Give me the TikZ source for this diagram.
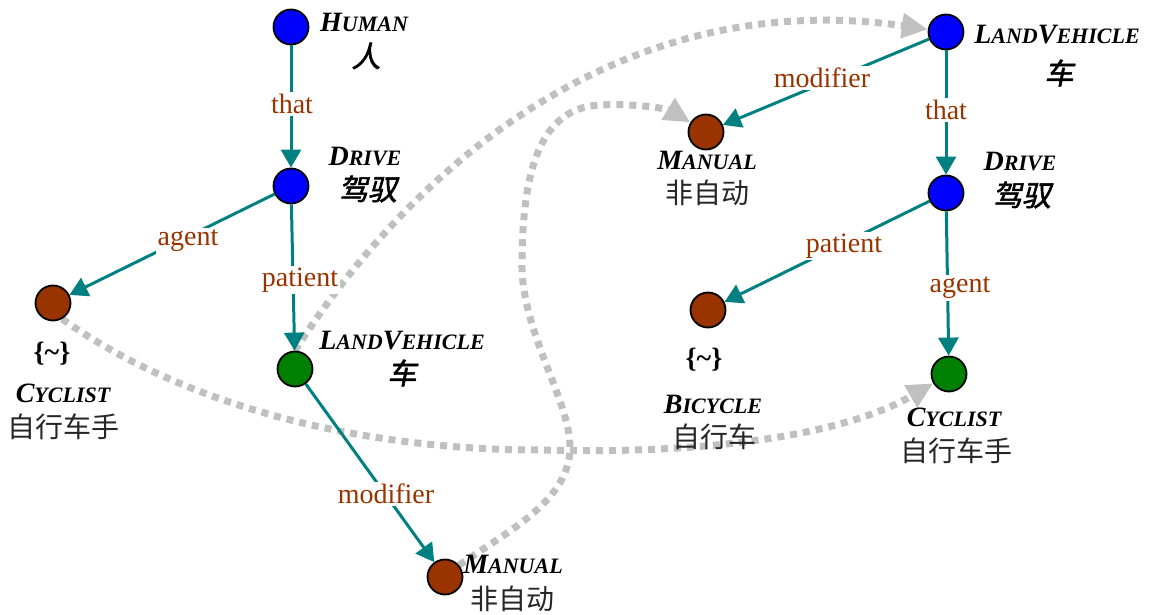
\documentclass[tikz,border=0pt]{standalone}
\usepackage{fontspec}
\setmainfont{Liberation Serif}
\newfontfamily\cjk{Noto Sans CJK SC}
\newfontfamily\cjkbi[FakeSlant=0.2,FakeBold=2]{Noto Sans CJK SC}
\usetikzlibrary{arrows.meta}
\pgfdeclarelayer{bg}
\pgfsetlayers{bg,main}

\definecolor{relcol}{HTML}{008080}
\definecolor{rust}{HTML}{993300}
\definecolor{cblue}{HTML}{0000FF}
\definecolor{cgreen}{HTML}{008000}
\definecolor{silv}{HTML}{C0C0C0}

% concept name in bold italic small capitals
\newcommand\kw[2]{{\bfseries\itshape\fontsize{14}{16}\selectfont #1\fontsize{11}{13}\selectfont #2}}

\tikzset{
  concept/.style={circle, draw=black, line width=0.9pt, minimum size=17.5pt, inner sep=0pt},
  isblue/.style={concept, fill=cblue},
  isgreen/.style={concept, fill=cgreen},
  isrust/.style={concept, fill=rust},
  rel/.style={draw=relcol, line width=1.5pt, -{Triangle[length=9pt,width=10pt]}},
  rellabel/.style={fill=white, text=rust, font=\fontsize{14}{16}\selectfont, inner sep=1pt},
  en/.style={inner sep=0pt},
  zhb/.style={inner sep=0pt, font=\cjkbi\fontsize{14.5}{16}\selectfont},
  zh/.style={inner sep=0pt, text=black!85, font=\cjk\fontsize{14}{16}\selectfont},
  tilde/.style={inner sep=0pt, font=\bfseries\fontsize{14}{16}\selectfont},
  corr/.style={draw=silv, line width=3.5pt, dash pattern=on 3.5pt off 3pt,
    -{Triangle[length=13pt,width=12pt,fill=silv]}}
}

\begin{document}
\begin{tikzpicture}[x=0.5pt,y=-0.5pt]
\useasboundingbox (0,0) rectangle (1156,615);

% ---- first graph ----
\node[isblue]  (human)  at (291,27)  {};
\node[isblue]  (drive1) at (291,186) {};
\node[isrust]  (cyc1)   at (53,303)  {};
\node[isgreen] (lv1)    at (295,369) {};
\node[isrust]  (man1)   at (445,577) {};

\node[en]  at (364,22)  {\kw{H}{UMAN}};
\node[zhb] at (366,56)  {人};
\node[en]  at (365,156) {\kw{D}{RIVE}};
\node[zhb] at (368,189) {驾驭};
\node[tilde] at (52,354) {\{\textasciitilde\}};
\node[en]  at (63,393)  {\kw{C}{YCLIST}};
\node[zh]  at (63,427)  {自行车手};
\node[en]  at (402,341) {\kw{L}{AND}\kw{V}{EHICLE}};
\node[zhb] at (402,373) {车};
\node[en]  at (513,564) {\kw{M}{ANUAL}};
\node[zh]  at (512,599) {非自动};

% ---- second graph ----
\node[isblue]  (lv2)    at (946,32)  {};
\node[isrust]  (man2)   at (706,132) {};
\node[isblue]  (drive2) at (946,193) {};
\node[isrust]  (bike)   at (708,310) {};
\node[isgreen] (cyc2)   at (949,374) {};

\node[en]  at (1057,35)  {\kw{L}{AND}\kw{V}{EHICLE}};
\node[zhb] at (1059,73)  {车};
\node[en]  at (707,160)  {\kw{M}{ANUAL}};
\node[zh]  at (707,193)  {非自动};
\node[en]  at (1020,161) {\kw{D}{RIVE}};
\node[zhb] at (1022,195) {驾驭};
\node[tilde] at (704,360) {\{\textasciitilde\}};
\node[en]  at (713,404)  {\kw{B}{ICYCLE}};
\node[zh]  at (714,437)  {自行车};
\node[en]  at (954,417)  {\kw{C}{YCLIST}};
\node[zh]  at (956,451)  {自行车手};

% ---- correspondences between the two graphs ----
\begin{pgfonlayer}{bg}
  \draw[corr] (cyc1.-60) .. controls (190,410) and (370,450) .. (540,450)
              .. controls (720,455) and (850,432) .. (cyc2);
  \draw[corr] (lv1.north) .. controls (410,170) and (620,-15) .. (lv2);
  \draw[corr] (man1.40) .. controls (510,530) and (570,500) .. (570,447)
              .. controls (570,400) and (520,330) .. (522,260)
              .. controls (523,170) and (540,108) .. (600,105)
              .. controls (640,103) and (670,110) .. (man2);
\end{pgfonlayer}

% ---- relations ----
\draw[rel] (human)  -- (drive1);
\draw[rel] (drive1) -- (cyc1);
\draw[rel] (drive1) -- (lv1);
\draw[rel] (lv1)    -- (man1);
\draw[rel] (lv2)    -- (man2);
\draw[rel] (lv2)    -- (drive2);
\draw[rel] (drive2) -- (bike);
\draw[rel] (drive2) -- (cyc2);

\node[rellabel] at (292,104) {that};
\node[rellabel] at (188,241) {agent};
\node[rellabel] at (300,280) {patient};
\node[rellabel] at (386,494) {modifier};
\node[rellabel] at (822,78)  {modifier};
\node[rellabel] at (946,110) {that};
\node[rellabel] at (844,246) {patient};
\node[rellabel] at (960,288) {agent};
\end{tikzpicture}
\end{document}
